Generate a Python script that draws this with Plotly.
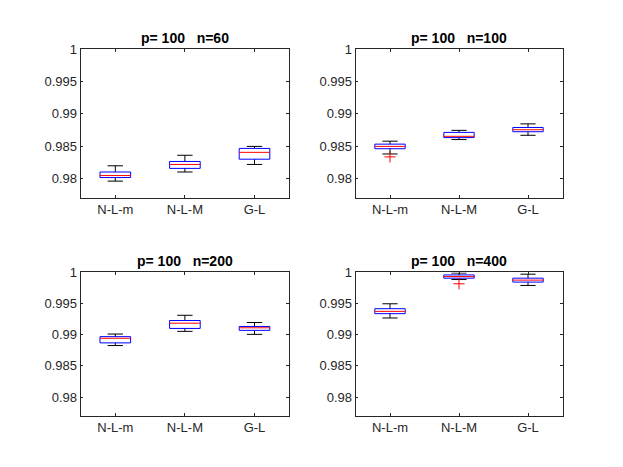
import plotly.graph_objects as go

categories = ["N-L-m", "N-L-M", "G-L"]
titles = ["p= 100   n=60", "p= 100   n=100", "p= 100   n=200", "p= 100   n=400"]
yticks = [0.98, 0.985, 0.99, 0.995, 1.0]
yticktext = ["0.98", "0.985", "0.99", "0.995", "1"]

# per panel: [lower whisker, q1, median, q3, upper whisker] for each category
stats_n60 = [
    [0.9796, 0.98015, 0.98046, 0.98101, 0.98197],
    [0.98101, 0.98157, 0.98218, 0.98264, 0.98360],
    [0.98218, 0.98299, 0.98405, 0.98466, 0.98497],
]
stats_n100 = [
    [0.98380, 0.98461, 0.98497, 0.98532, 0.98578],
    [0.98603, 0.98633, 0.98653, 0.98714, 0.98745],
    [0.98669, 0.98724, 0.98755, 0.98790, 0.98846],
]
stats_n200 = [
    [0.98826, 0.98869, 0.98943, 0.98969, 0.99011],
    [0.99054, 0.99101, 0.99185, 0.99228, 0.99312],
    [0.99006, 0.99070, 0.99111, 0.99133, 0.99196],
]
stats_n400 = [
    [0.99269, 0.99338, 0.99375, 0.99418, 0.99497],
    [0.99886, 0.99908, 0.99934, 0.99960, 0.99990],
    [0.99791, 0.99845, 0.99877, 0.99908, 0.99972],
]
outliers_n60 = [[], [], []]
outliers_n100 = [[0.98335], [], []]
outliers_n200 = [[], [], []]
outliers_n400 = [[], [0.99818], []]

panels = [
    (stats_n60, outliers_n60),
    (stats_n100, outliers_n100),
    (stats_n200, outliers_n200),
    (stats_n400, outliers_n400),
]

PAGE_MARGIN = 8  # default body margin of the html page
W, H = 623 - 2 * PAGE_MARGIN, 467 - 2 * PAGE_MARGIN
# axes pixel boxes in window coords: (left, right, top, bottom)
boxes_px = [(80.5, 289.3, 42.8, 193.8), (355.5, 562.5, 42.8, 193.8),
            (80.5, 289.3, 269.5, 415.0), (355.5, 562.5, 269.5, 415.0)]

BOX_HW = 0.22
CAP_HW = 0.11
AX_COLOR = "#262626"
FONT = "Liberation Sans, Arial, Helvetica, sans-serif"

fig = go.Figure()
layout = dict(
    width=W, height=H, margin=dict(l=0, r=0, t=0, b=0),
    paper_bgcolor="white", plot_bgcolor="white", showlegend=False,
    font=dict(family=FONT, size=13, color=AX_COLOR),
)
annotations = []

for i, (stats, outs) in enumerate(panels):
    xa = "x" if i == 0 else f"x{i+1}"
    ya = "y" if i == 0 else f"y{i+1}"
    bx, wx, mx, cx, ox, oy = [], [], [], [], [], []
    by, wy, my, cy = [], [], [], []
    for j, (s, o) in enumerate(zip(stats, outs)):
        c = j + 1
        lo, q1, med, q3, hi = s
        bx += [c - BOX_HW, c + BOX_HW, c + BOX_HW, c - BOX_HW, c - BOX_HW, None]
        by += [q1, q1, q3, q3, q1, None]
        mx += [c - BOX_HW, c + BOX_HW, None]
        my += [med, med, None]
        wx += [c, c, None, c, c, None]
        wy += [q3, hi, None, q1, lo, None]
        cx += [c - CAP_HW, c + CAP_HW, None, c - CAP_HW, c + CAP_HW, None]
        cy += [hi, hi, None, lo, lo, None]
        for v in o:
            ox.append(c)
            oy.append(v)
    common = dict(xaxis=xa, yaxis=ya, mode="lines", hoverinfo="skip")
    fig.add_trace(go.Scatter(x=wx, y=wy, line=dict(color="black", width=1), **common))
    fig.add_trace(go.Scatter(x=cx, y=cy, line=dict(color="black", width=1), **common))
    fig.add_trace(go.Scatter(x=bx, y=by, line=dict(color="#0000FF", width=1), **common))
    fig.add_trace(go.Scatter(x=mx, y=my, line=dict(color="#FF0000", width=1), **common))
    if ox:
        fig.add_trace(go.Scatter(x=ox, y=oy, xaxis=xa, yaxis=ya, mode="markers",
                                 marker=dict(symbol="cross-thin-open", size=8, color="#FF0000",
                                             line=dict(color="#FF0000", width=1)),
                                 hoverinfo="skip"))
    l, r, t, b = [v - PAGE_MARGIN for v in boxes_px[i]]
    dx = [l / W, r / W]
    dy = [1 - b / H, 1 - t / H]
    key_x = "xaxis" if i == 0 else f"xaxis{i+1}"
    key_y = "yaxis" if i == 0 else f"yaxis{i+1}"
    layout[key_x] = dict(
        domain=dx, anchor=ya, range=[0.5, 3.5], tickvals=[1, 2, 3], ticktext=categories,
        ticks="inside", ticklen=3, tickcolor=AX_COLOR, tickwidth=0.8,
        showline=True, linecolor=AX_COLOR, linewidth=0.8, mirror="ticks",
        showgrid=False, zeroline=False, tickfont=dict(size=13, color=AX_COLOR),
        fixedrange=True,
    )
    layout[key_y] = dict(
        domain=dy, anchor=xa, range=[0.977, 1.0], tickvals=yticks, ticktext=yticktext,
        ticks="inside", ticklen=3, tickcolor=AX_COLOR, tickwidth=0.8,
        showline=True, linecolor=AX_COLOR, linewidth=0.8, mirror="ticks",
        showgrid=False, zeroline=False, tickfont=dict(size=13, color=AX_COLOR),
        fixedrange=True,
    )
    annotations.append(dict(
        text="<b>" + titles[i].replace(" ", "\u00a0") + "</b>",
        xref="paper", yref="paper", x=(dx[0] + dx[1]) / 2, y=dy[1],
        xanchor="center", yanchor="bottom", yshift=1, showarrow=False,
        font=dict(size=14, color="black", family=FONT),
    ))

layout["annotations"] = annotations
fig.update_layout(**layout)
fig.write_html("out.html")
